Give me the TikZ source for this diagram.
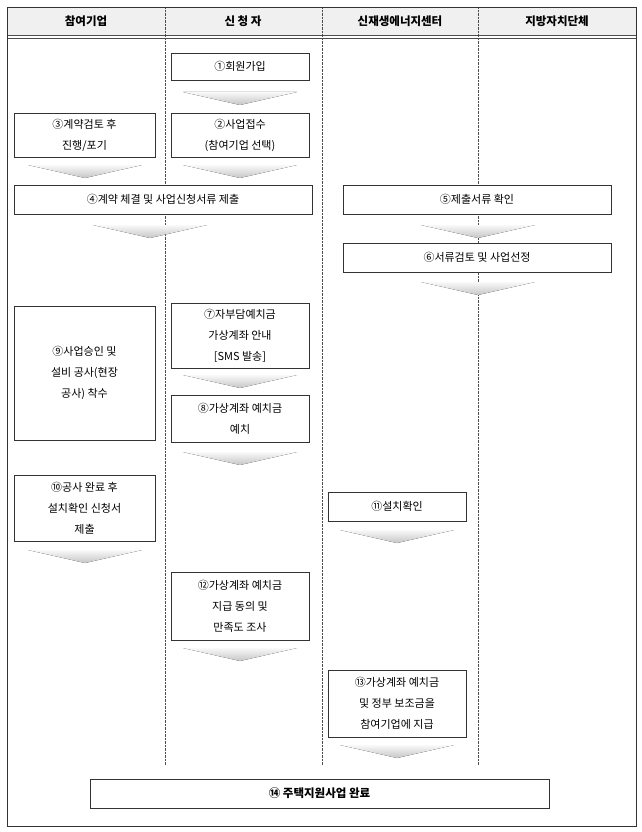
\documentclass[tikz,border=0pt]{standalone}
\usepackage{fontspec}
\setmainfont{Noto Sans CJK KR}
\usetikzlibrary{calc}

\tikzset{
  stepbox/.style={draw=black!80,fill=white,align=center,inner sep=0pt,font=\fontsize{11}{21}\selectfont},
  lane/.style={black!70,densely dotted,thin},
  chevron/.style={top color=gray!5,bottom color=gray!45,draw=none}
}
\newcommand{\chev}[2]{%
  \fill[chevron] (#1-57,#2)--(#1+57,#2)--(#1,#2+13)--cycle;}

\begin{document}
\begin{tikzpicture}[x=1pt,y=-1pt]
          \useasboundingbox (0,0) rectangle (642,832);
          \fill[gray!12] (7,7) rectangle (636,35);
          \draw[black!70] (7,35)--(636,35);
          \draw[black!70] (7,38)--(636,38);
          \draw[lane] (165,7)--(165,765);
          \draw[lane] (322,7)--(322,765);
          \draw[lane] (478,7)--(478,765);
          \draw[black!80] (7,7) rectangle (636,826);
          % header
          \node[font=\bfseries\fontsize{11.5}{13}\selectfont] (h1) at (86,21) {참여기업};
          \node[font=\bfseries\fontsize{11.5}{13}\selectfont] (h2) at (243,21) {신 청 자};
          \node[font=\bfseries\fontsize{11.5}{13}\selectfont] (h3) at (400,21) {신재생에너지센터};
          \node[font=\bfseries\fontsize{11.5}{13}\selectfont] (h4) at (557,21) {지방자치단체};
          % arrows
          \chev{240}{92}
          \chev{85}{165}
          \chev{240}{165}
          \chev{150}{225}
          \chev{478}{225}
          \chev{478}{282}
          \chev{240}{375}
          \chev{240}{452}
          \chev{85}{550}
          \chev{397}{530}
          \chev{240}{648}
          \chev{397}{745}
          % steps
          \node[stepbox,minimum width=138pt,minimum height=27pt] (s1) at (240,66.5) {①회원가입};
          \node[stepbox,minimum width=138pt,minimum height=44pt] (s2) at (240,135) {②사업접수\\(참여기업 선택)};
          \node[stepbox,minimum width=141pt,minimum height=44pt] (s3) at (84.5,135) {③계약검토 후\\진행/포기};
          \node[stepbox,minimum width=298pt,minimum height=29pt] (s4) at (163,199.5) {④계약 체결 및 사업신청서류 제출};
          \node[stepbox,minimum width=268pt,minimum height=29pt] (s5) at (477,199.5) {⑤제출서류 확인};
          \node[stepbox,minimum width=268pt,minimum height=29pt] (s6) at (477,257.5) {⑥서류검토 및 사업선정};
          \node[stepbox,minimum width=138pt,minimum height=65pt] (s7) at (240,335.5) {⑦자부담예치금\\가상계좌 안내\\{[SMS 발송]}};
          \node[stepbox,minimum width=138pt,minimum height=47pt] (s8) at (240,418.5) {⑧가상계좌 예치금\\예치};
          \node[stepbox,minimum width=141pt,minimum height=134pt] (s9) at (84.5,373) {⑨사업승인 및\\설비 공사(현장\\공사) 착수};
          \node[stepbox,minimum width=141pt,minimum height=66pt] (s10) at (84.5,508) {⑩공사 완료 후\\설치확인 신청서\\제출};
          \node[stepbox,minimum width=138pt,minimum height=29pt] (s11) at (397,506.5) {⑪설치확인};
          \node[stepbox,minimum width=138pt,minimum height=68pt] (s12) at (240,606) {⑫가상계좌 예치금\\지급 동의 및\\만족도 조사};
          \node[stepbox,minimum width=138pt,minimum height=67pt] (s13) at (397,703.5) {⑬가상계좌 예치금\\및 정부 보조금을\\참여기업에 지급};
          \node[stepbox,font=\bfseries\fontsize{11.5}{13}\selectfont,minimum width=459pt,minimum height=29pt] (s14) at (319.5,793.5) {⑭ 주택지원사업 완료};
        \end{tikzpicture}
\end{document}
